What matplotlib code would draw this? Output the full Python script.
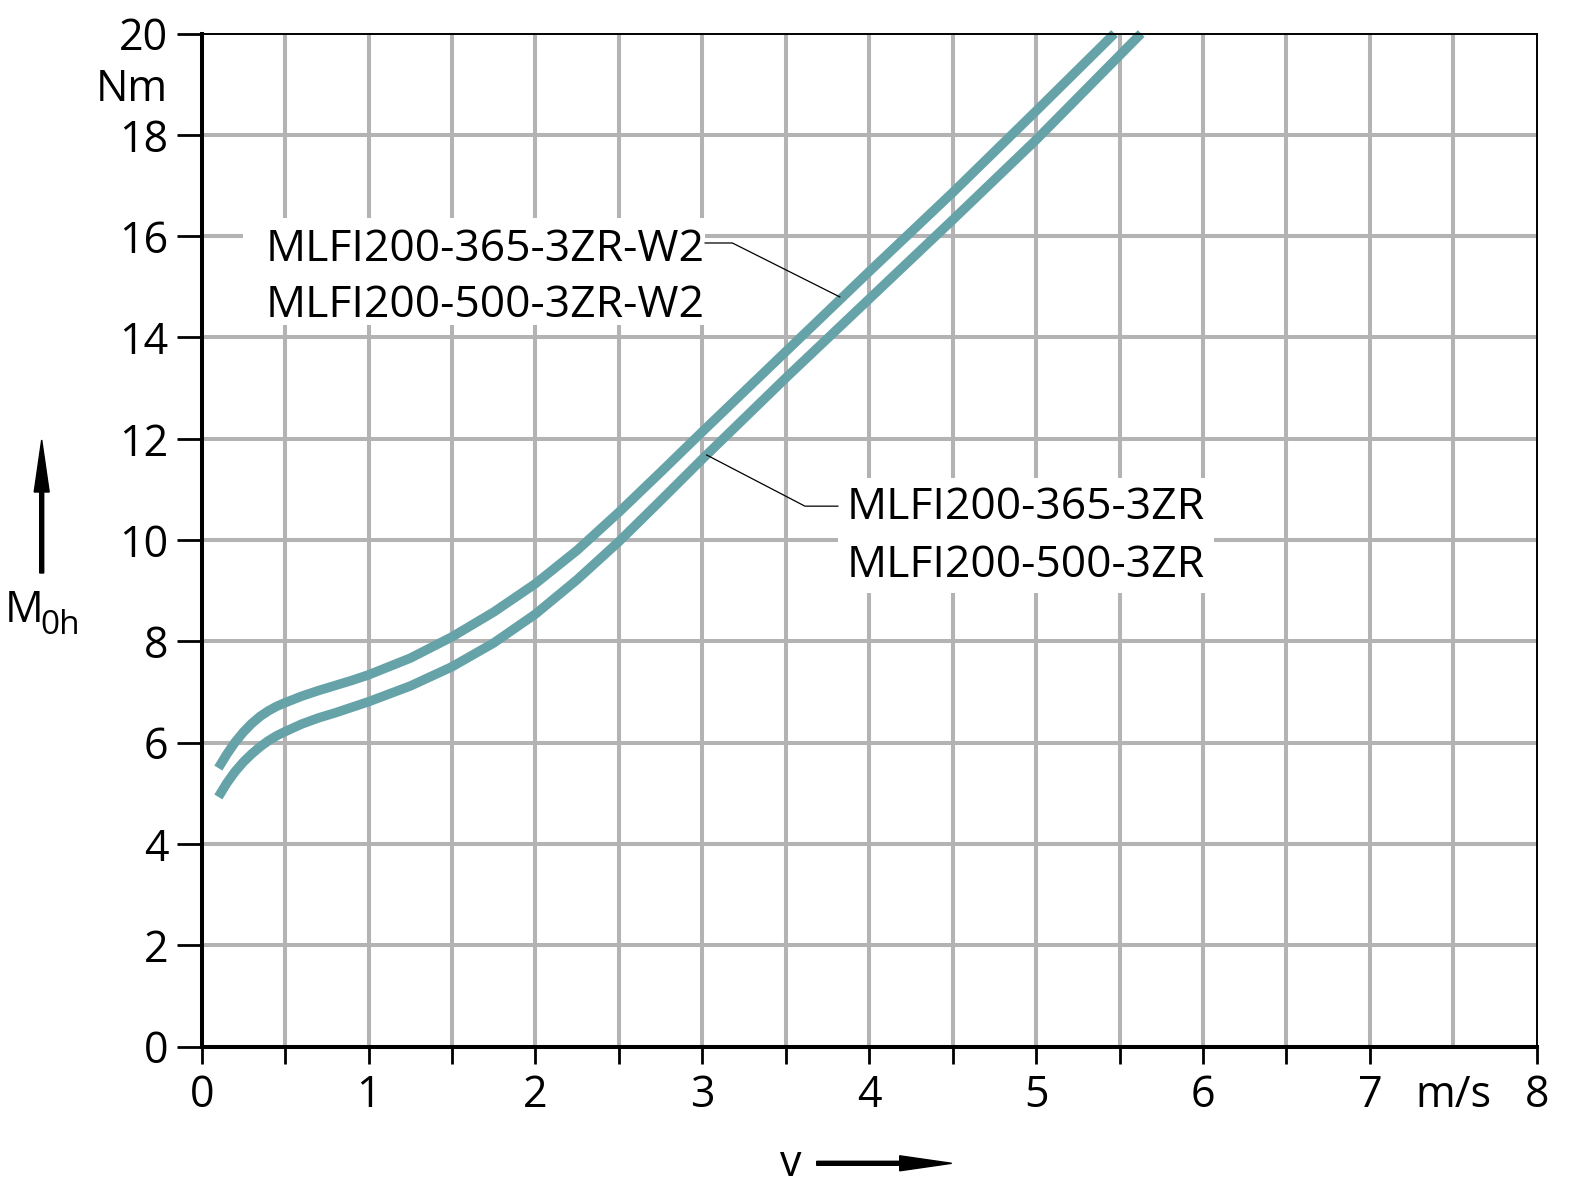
import matplotlib as mpl
mpl.use('Agg')
import matplotlib.pyplot as plt
from matplotlib.patches import Rectangle, FancyArrow

plt.rcParams['font.family'] = ['Open Sans', 'DejaVu Sans']

# torque M0h (Nm) over speed v (m/s)
upper_v = [0.1, 0.15, 0.2, 0.25, 0.3, 0.35, 0.4, 0.45, 0.5, 0.6, 0.7, 0.8, 0.9, 1.0,
           1.25, 1.5, 1.75, 2.0, 2.25, 2.5, 2.75, 3.0, 3.5, 4.0, 4.5, 5.0, 5.47]
upper_m = [5.50, 5.77, 6.01, 6.21, 6.38, 6.52, 6.63, 6.72, 6.79, 6.92, 7.03, 7.13, 7.23, 7.34,
           7.67, 8.09, 8.58, 9.14, 9.80, 10.55, 11.34, 12.14, 13.72, 15.30, 16.86, 18.47, 20.0]
lower_v = [0.1, 0.15, 0.2, 0.25, 0.3, 0.35, 0.4, 0.45, 0.5, 0.6, 0.7, 0.8, 0.9, 1.0,
           1.25, 1.5, 1.75, 2.0, 2.25, 2.5, 2.75, 3.0, 3.5, 4.0, 4.5, 5.0, 5.63]
lower_m = [4.93, 5.20, 5.43, 5.62, 5.78, 5.92, 6.04, 6.14, 6.22, 6.37, 6.49, 6.59, 6.70, 6.81,
           7.12, 7.50, 7.97, 8.54, 9.22, 9.97, 10.78, 11.60, 13.20, 14.76, 16.32, 17.90, 20.0]

upper_labels = ['MLFI200-365-3ZR-W2', 'MLFI200-500-3ZR-W2']
lower_labels = ['MLFI200-365-3ZR', 'MLFI200-500-3ZR']

x_ticks = [0, 1, 2, 3, 4, 5, 6, 7, 7.5, 8]
x_ticklabels = ['0', '1', '2', '3', '4', '5', '6', '7', 'm/s', '8']
y_ticks = [0, 2, 4, 6, 8, 10, 12, 14, 16, 18, 19, 20]
y_ticklabels = ['0', '2', '4', '6', '8', '10', '12', '14', '16', '18', 'Nm', '20']

teal = '#66a3a9'
grey = '#b3b3b3'
fs = 31

fig = plt.figure(figsize=(15.88, 12), dpi=100)
ax = fig.add_axes([0.1270, 0.12775, 0.8407, 0.84433])

ax.set_xlim(0, 8)
ax.set_ylim(0, 20)

# grid
for xv in [i * 0.5 for i in range(1, 16)]:
    ax.axvline(xv, color=grey, lw=2.9, zorder=1)
for yv in range(2, 20, 2):
    ax.axhline(yv, color=grey, lw=2.9, zorder=1)

# white boxes behind labels
ax.add_patch(Rectangle((0.249, 14.25), 2.768, 2.11, facecolor='white', edgecolor='none', zorder=2))
ax.add_patch(Rectangle((3.812, 8.95), 2.253, 2.27, facecolor='white', edgecolor='none', zorder=2))

# curves
for vv, mm in [(upper_v, upper_m), (lower_v, lower_m)]:
    ax.plot(vv, mm, color=teal, lw=6.8, solid_capstyle='butt', solid_joinstyle='round',
            zorder=4, clip_on=False)

# labels with leader lines
ax.text(0.385, 15.51, upper_labels[0], fontsize=32, ha='left', va='baseline', zorder=5)
ax.text(0.385, 14.40, upper_labels[1], fontsize=32, ha='left', va='baseline', zorder=5)
ax.plot([3.017, 3.18, 3.824], [15.865, 15.865, 14.80], color='black', lw=0.9, zorder=5)

ax.text(3.866, 10.41, lower_labels[0], fontsize=32, ha='left', va='baseline', zorder=5)
ax.text(3.866, 9.27, lower_labels[1], fontsize=32, ha='left', va='baseline', zorder=5)
ax.plot([3.812, 3.615, 3.026], [10.67, 10.67, 11.68], color='black', lw=0.9, zorder=5)

# spines
for s in ['left', 'bottom']:
    ax.spines[s].set_linewidth(2.9)
for s in ['top', 'right']:
    ax.spines[s].set_linewidth(1.4)
for s in ax.spines.values():
    s.set_zorder(6)

# ticks
ax.set_xticks(x_ticks)
ax.set_xticklabels(x_ticklabels, fontsize=fs)
ax.set_xticks([i * 0.5 for i in range(1, 14, 2)], minor=True)
ax.set_yticks(y_ticks)
ax.set_yticklabels(y_ticklabels, fontsize=fs)
ax.tick_params(axis='x', which='both', direction='out', length=12, width=2, pad=7)
ax.tick_params(axis='y', which='both', direction='out', length=18, width=2, pad=6)
ax.xaxis.get_major_ticks()[8].tick1line.set_visible(False)
ax.yaxis.get_major_ticks()[10].tick1line.set_visible(False)

# overlay in pixel coordinates for axis names and arrows
ov = fig.add_axes([0, 0, 1, 1])
ov.set_xlim(0, 1588)
ov.set_ylim(1200, 0)
ov.axis('off')
ov.patch.set_alpha(0)

ov.text(5, 621.7, 'M', fontsize=fs, ha='left', va='baseline')
ov.text(40, 634, '0h', fontsize=24, ha='left', va='baseline')
ov.add_patch(FancyArrow(41.7, 573, 0, -133, width=4, head_width=15, head_length=52,
                        length_includes_head=True, color='black'))

ov.text(780, 1176, 'v', fontsize=fs, ha='left', va='baseline')
ov.add_patch(FancyArrow(816.7, 1163.3, 135, 0, width=4, head_width=15, head_length=52,
                        length_includes_head=True, color='black'))

fig.savefig('out.png', dpi=100)
